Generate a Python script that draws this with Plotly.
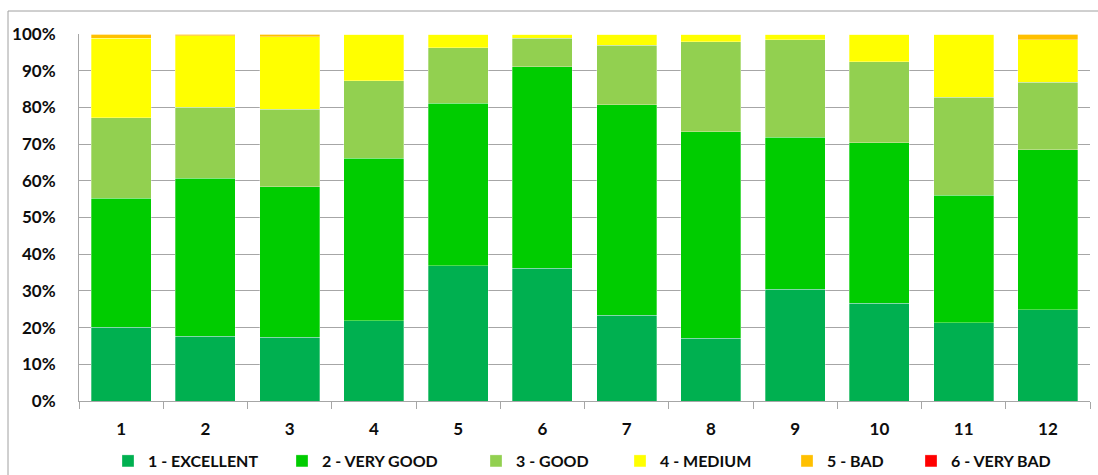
import plotly.graph_objects as go

# Month / group index on the x axis
categories = ["1", "2", "3", "4", "5", "6", "7", "8", "9", "10", "11", "12"]

# Share of each rating per group (%)
excellent = [20.1, 17.7, 17.4, 21.9, 36.8, 36.2, 23.4, 17.1, 30.5, 26.7, 21.3, 24.8]
very_good = [35.1, 43.0, 41.0, 44.2, 44.3, 54.9, 57.3, 56.2, 41.4, 43.7, 34.8, 43.6]
good      = [22.0, 19.3, 21.1, 21.1, 15.2, 7.7, 16.3, 24.6, 26.6, 22.1, 26.6, 18.5]
medium    = [21.6, 19.5, 19.7, 12.8, 3.7, 1.2, 3.0, 2.1, 1.5, 7.5, 17.3, 11.6]
bad       = [1.2, 0.5, 0.8, 0.0, 0.0, 0.0, 0.0, 0.0, 0.0, 0.0, 0.0, 1.5]
very_bad  = [0.0, 0.0, 0.0, 0.0, 0.0, 0.0, 0.0, 0.0, 0.0, 0.0, 0.0, 0.0]

series_names = ["1 - EXCELLENT", "2 - VERY GOOD", "3 - GOOD", "4 - MEDIUM", "5 - BAD", "6 - VERY BAD"]
series_values = [excellent, very_good, good, medium, bad, very_bad]
series_colors = ["#00B050", "#00CC00", "#92D050", "#FFFF00", "#FFC000", "#FF0000"]

W, H = 1098, 475
L, R, T, B = 79, 8, 34, 74
FONT = "Lato"
TEXT_COLOR = "#0d0d0d"

# x position (px) of each legend entry
legend_x_px = [108, 282, 476, 620, 787, 911]

fig = go.Figure()
legend_layouts = {}
for i, (name, vals, col) in enumerate(zip(series_names, series_values, series_colors)):
    lg = "legend" if i == 0 else f"legend{i + 1}"
    fig.add_trace(go.Bar(
        x=categories, y=vals, name=name,
        marker=dict(color=col, line=dict(color="rgba(255,255,255,0.6)", width=0.5)),
        legend=lg,
    ))
    legend_layouts[lg] = dict(
        orientation="h", xref="container", yref="container",
        x=legend_x_px[i] / W, y=1 - 461 / H, xanchor="left", yanchor="middle",
        bgcolor="rgba(0,0,0,0)", borderwidth=0,
        font=dict(family=FONT, size=16, color=TEXT_COLOR, weight="bold"),
    )

pw = W - L - R
ph = H - T - B

fig.update_layout(
    width=W, height=H,
    margin=dict(l=L, r=R, t=T, b=B, autoexpand=False),
    barmode="stack",
    bargap=0.29,
    plot_bgcolor="white",
    paper_bgcolor="white",
    showlegend=True,
    xaxis=dict(
        type="category", automargin=False,
        tickson="boundaries", ticks="outside", ticklen=7, tickcolor="#A6A6A6",
        showline=True, linecolor="#A6A6A6", linewidth=1,
        showgrid=False,
        tickfont=dict(family=FONT, size=17, color=TEXT_COLOR, weight="bold"),
        ticklabelstandoff=13,
    ),
    yaxis=dict(
        range=[0, 100], automargin=False,
        tickvals=[0, 10, 20, 30, 40, 50, 60, 70, 80, 90, 100],
        ticktext=["0%", "10%", "20%", "30%", "40%", "50%", "60%", "70%", "80%", "90%", "100%"],
        showgrid=True, gridcolor="#A6A6A6", gridwidth=1,
        showline=True, linecolor="#A6A6A6", linewidth=1,
        zeroline=False,
        tickfont=dict(family=FONT, size=17, color=TEXT_COLOR, weight="bold"),
        ticklabelstandoff=19,
    ),
    **legend_layouts,
)

# Chart frame (top and left edges)
fx0 = (8 - L) / pw
fy_top = (H - B - 11) / ph
fig.add_shape(type="line", xref="paper", yref="paper",
              x0=fx0, x1=(W + 5 - L) / pw, y0=fy_top, y1=fy_top,
              line=dict(color="#A0A0A0", width=1))
fig.add_shape(type="line", xref="paper", yref="paper",
              x0=fx0, x1=fx0, y0=fy_top, y1=-(B + 10) / ph,
              line=dict(color="#A0A0A0", width=1))

fig.write_html("out.html")
